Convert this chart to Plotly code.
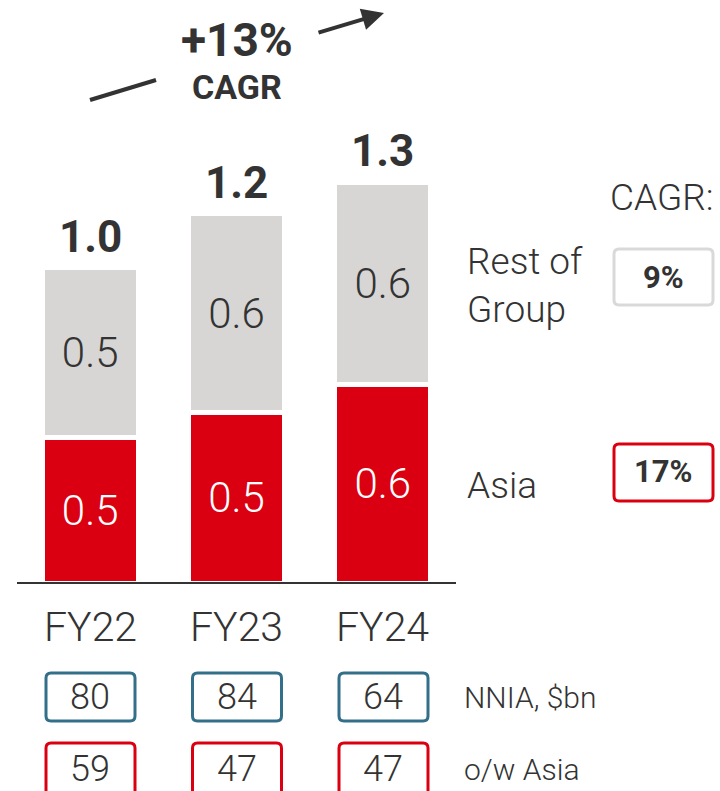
import plotly.graph_objects as go

# ---- data ----
years = ["FY22", "FY23", "FY24"]
asia = [0.46, 0.54, 0.63]
rest_of_group = [0.54, 0.63, 0.64]
asia_labels = ["0.5", "0.5", "0.6"]
rest_labels = ["0.5", "0.6", "0.6"]
total_labels = ["1.0", "1.2", "1.3"]
totals = [a + r for a, r in zip(asia, rest_of_group)]
cagr_total = "+13%"
cagr_rest = "9%"
cagr_asia = "17%"
nnia = ["80", "84", "64"]
nnia_asia = ["59", "47", "47"]

W, H = 720, 791
RED = "#db0011"
GREY = "#d7d6d5"
DARK = "#333333"
BLUE = "#336f88"
FONT = "Roboto, Liberation Sans, sans-serif"
LIGHT = 300


def px(x):
    return x / W


def py(y):
    return 1 - y / H


fig = go.Figure()
fig.add_trace(go.Bar(
    x=years, y=asia, text=asia_labels, name="Asia",
    marker=dict(color=RED, line=dict(color="white", width=5)),
    width=0.656, textposition="inside", insidetextanchor="middle", textangle=0,
    textfont=dict(color="white", size=42, family=FONT, weight=LIGHT),
    hoverinfo="skip",
))
fig.add_trace(go.Bar(
    x=years, y=rest_of_group, text=rest_labels, name="Rest of Group",
    marker=dict(color=GREY, line=dict(color="white", width=5)),
    width=0.656, textposition="inside", insidetextanchor="middle", textangle=0,
    textfont=dict(color=DARK, size=42, family=FONT, weight=LIGHT),
    hoverinfo="skip",
))

ann = []
# totals above bars
for yr, t, lab in zip(years, totals, total_labels):
    ann.append(dict(x=yr, y=t, xref="x", yref="y", text=lab, showarrow=False,
                    xanchor="center", yanchor="middle", yshift=31,
                    font=dict(size=44, color=DARK, family=FONT, weight="bold")))
# year labels
for yr in years:
    ann.append(dict(x=yr, y=py(627), xref="x", yref="paper", text=yr, showarrow=False,
                    xanchor="center", yanchor="middle",
                    font=dict(size=41, color=DARK, family=FONT, weight=LIGHT)))
# bottom boxes text
for yr, a, b in zip(years, nnia, nnia_asia):
    ann.append(dict(x=yr, y=py(697), xref="x", yref="paper", text=a, showarrow=False,
                    xanchor="center", yanchor="middle",
                    font=dict(size=36, color=DARK, family=FONT, weight=LIGHT)))
    ann.append(dict(x=yr, y=py(769), xref="x", yref="paper", text=b, showarrow=False,
                    xanchor="center", yanchor="middle",
                    font=dict(size=36, color=DARK, family=FONT, weight=LIGHT)))

ann += [
    dict(x=px(462), y=py(697), xref="paper", yref="paper", text="NNIA, $bn", showarrow=False,
         xanchor="left", yanchor="middle", font=dict(size=30, color=DARK, family=FONT, weight=LIGHT)),
    dict(x=px(462), y=py(769), xref="paper", yref="paper", text="o/w Asia", showarrow=False,
         xanchor="left", yanchor="middle", font=dict(size=30, color=DARK, family=FONT, weight=LIGHT)),
    dict(x=px(465), y=py(285), xref="paper", yref="paper", text="Rest of<br>Group", showarrow=False,
         xanchor="left", yanchor="middle", align="left",
         font=dict(size=37, color=DARK, family=FONT, weight=LIGHT)),
    dict(x=px(465), y=py(485), xref="paper", yref="paper", text="Asia", showarrow=False,
         xanchor="left", yanchor="middle", font=dict(size=37, color=DARK, family=FONT, weight=LIGHT)),
    dict(x=px(608), y=py(197), xref="paper", yref="paper", text="CAGR:", showarrow=False,
         xanchor="left", yanchor="middle", font=dict(size=37, color=DARK, family=FONT, weight=LIGHT)),
    dict(x=px(663.5), y=py(277), xref="paper", yref="paper", text=cagr_rest, showarrow=False,
         xanchor="center", yanchor="middle", font=dict(size=31, color=DARK, family=FONT, weight="bold")),
    dict(x=px(663.5), y=py(472), xref="paper", yref="paper", text=cagr_asia, showarrow=False,
         xanchor="center", yanchor="middle", font=dict(size=31, color=DARK, family=FONT, weight="bold")),
    dict(x=px(237), y=py(40), xref="paper", yref="paper", text=cagr_total, showarrow=False,
         xanchor="center", yanchor="middle", font=dict(size=46, color=DARK, family=FONT, weight="bold")),
    dict(x=px(237), y=py(87), xref="paper", yref="paper", text="CAGR", showarrow=False,
         xanchor="center", yanchor="middle", font=dict(size=34, color=DARK, family=FONT, weight="bold")),
    # arrow head segment
    dict(x=px(384), y=py(13), xref="paper", yref="paper", text="", showarrow=True,
         ax=317 - 384, ay=33 - 13, axref="pixel", ayref="pixel",
         arrowhead=2, arrowsize=1.1, arrowwidth=4, arrowcolor=DARK),
]


def rrect(x0, y0, x1, y1, r=5):
    # rounded rectangle path in paper coords from pixel coords
    pts = [
        f"M {px(x0 + r)},{py(y0)}",
        f"L {px(x1 - r)},{py(y0)}",
        f"Q {px(x1)},{py(y0)} {px(x1)},{py(y0 + r)}",
        f"L {px(x1)},{py(y1 - r)}",
        f"Q {px(x1)},{py(y1)} {px(x1 - r)},{py(y1)}",
        f"L {px(x0 + r)},{py(y1)}",
        f"Q {px(x0)},{py(y1)} {px(x0)},{py(y1 - r)}",
        f"L {px(x0)},{py(y0 + r)}",
        f"Q {px(x0)},{py(y0)} {px(x0 + r)},{py(y0)}",
        "Z",
    ]
    return " ".join(pts)


shapes = [
    dict(type="line", xref="paper", yref="paper", x0=px(90), y0=py(100), x1=px(156), y1=py(80),
         line=dict(color=DARK, width=4)),
    dict(type="path", xref="paper", yref="paper", path=rrect(614, 249, 713, 305),
         line=dict(color="#d9d9d9", width=3)),
    dict(type="path", xref="paper", yref="paper", path=rrect(614, 444, 713, 501),
         line=dict(color=RED, width=3)),
]
centers = [90.5, 237, 383.5]
for c in centers:
    shapes.append(dict(type="path", xref="paper", yref="paper",
                       path=rrect(c - 44.5, 673, c + 44.5, 721), line=dict(color=BLUE, width=3)))
    shapes.append(dict(type="path", xref="paper", yref="paper",
                       path=rrect(c - 44.5, 743, c + 44.5, 800), line=dict(color=RED, width=3)))

fig.update_layout(
    width=W, height=H, barmode="stack", showlegend=False,
    margin=dict(l=0, r=0, t=0, b=0),
    paper_bgcolor="white", plot_bgcolor="white",
    font=dict(family=FONT, color=DARK),
    xaxis=dict(domain=[px(17), px(456)], range=[-0.5, 2.5], showticklabels=False,
               showgrid=False, zeroline=False, showline=False, fixedrange=True),
    yaxis=dict(domain=[py(583), 1.0], range=[0, 583 / 315.5], showticklabels=False,
               showgrid=False, zeroline=False, showline=False, fixedrange=True),
    annotations=ann,
    shapes=shapes + [dict(type="line", xref="paper", yref="paper", x0=px(17), x1=px(456),
                          y0=py(583), y1=py(583), line=dict(color=DARK, width=2))],
)

fig.write_html(
    "out.html",
    config={"displayModeBar": False},
    post_script="document.body.style.margin='0';document.body.style.overflow='hidden';",
)
